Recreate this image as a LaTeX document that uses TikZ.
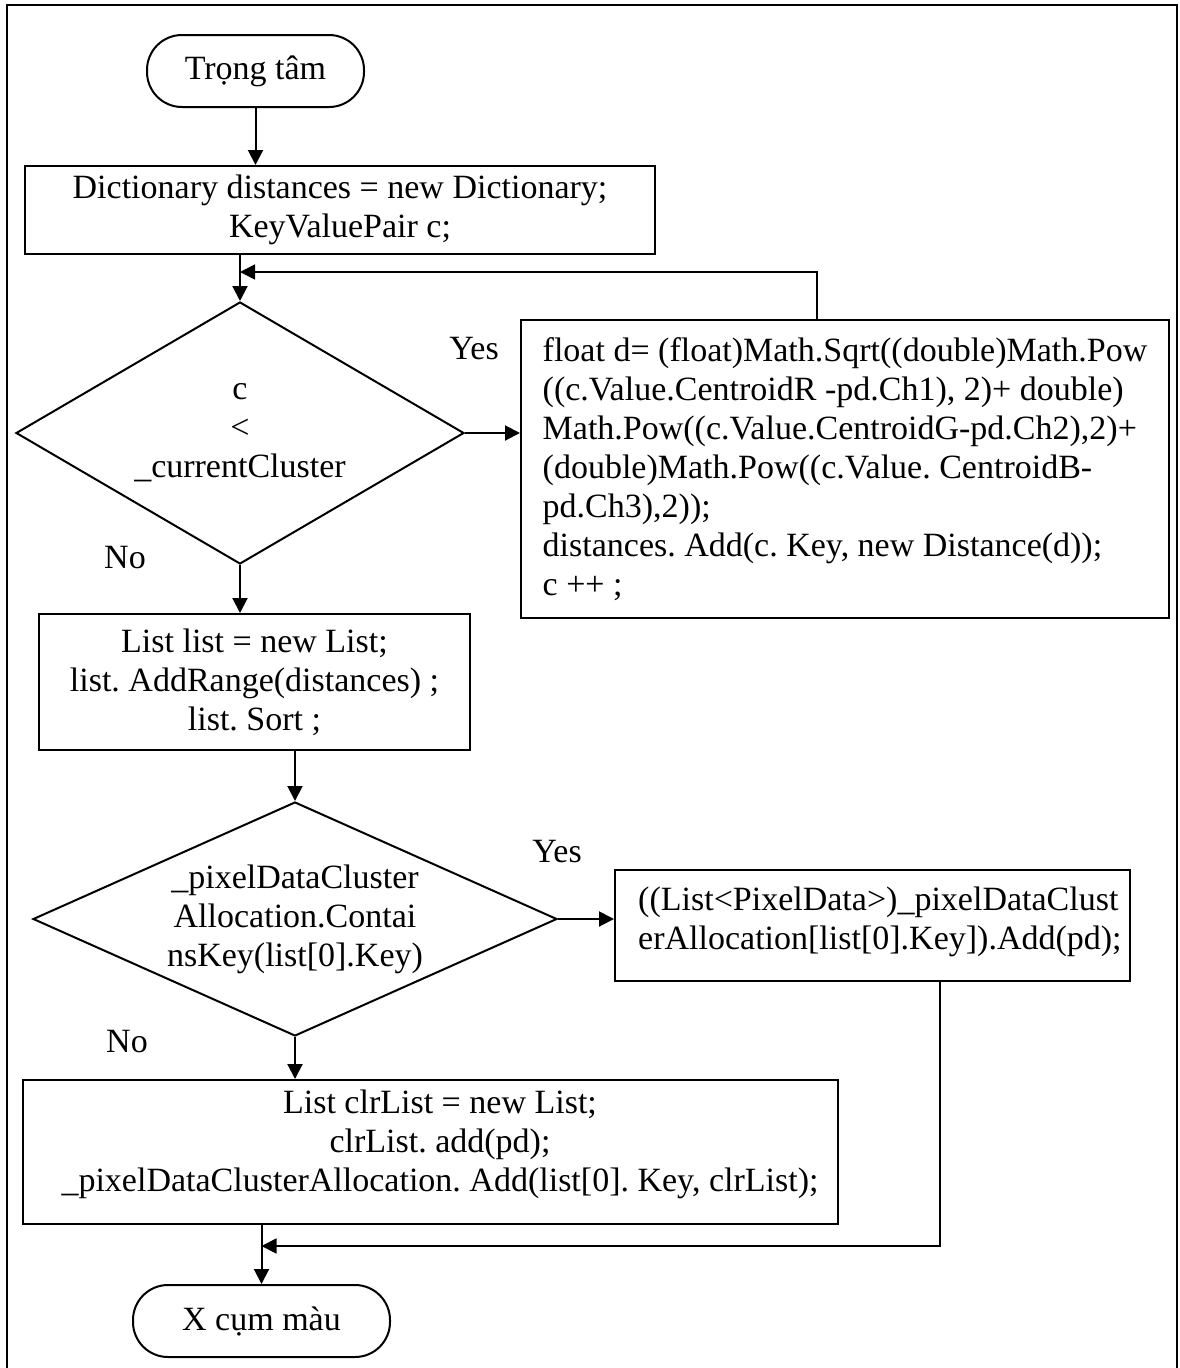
\documentclass[tikz,border=0pt]{standalone}
\usepackage{fontspec}
\setmainfont{Liberation Serif}
\usetikzlibrary{shapes.geometric,arrows.meta}
\newcommand\flowfont{\fontsize{34pt}{39pt}\selectfont\frenchspacing}
\begin{document}
\begin{tikzpicture}[x=1pt,y=-1pt,
  every node/.style={font=\flowfont, inner sep=0pt},
  box/.style={draw, line width=2pt, rectangle},
  term/.style={draw, line width=2pt, rectangle, rounded corners=35pt},
  decision/.style={draw, line width=2pt, diamond, align=center},
  arr/.style={line width=2pt, -{Triangle[length=15pt,width=15pt]}},
  frame/.style={line width=1.5pt}
]
\useasboundingbox (0,0) rectangle (1179,1368);
% page frame
\draw[frame] (7,1368) -- (7,5) -- (1177,5) -- (1177,1368);

% nodes
\node[term, minimum width=217pt, minimum height=72pt] (start) at (255.5,71) {Trọng tâm};
\node[box, minimum width=630pt, minimum height=88pt, align=center] (init) at (340,210)
  {Dictionary distances = new Dictionary;\\KeyValuePair c;};
\node[decision, minimum width=448pt, minimum height=262pt, aspect=1.71] (loop) at (240,433)
  {c\\<\\\_currentCluster};
\node[box, minimum width=648pt, minimum height=298pt, align=left] (calc) at (845,469)
  {float d= (float)Math.Sqrt((double)Math.Pow\\
   ((c.Value.CentroidR -pd.Ch1), 2)+ double)\\
   Math.Pow((c.Value.CentroidG-pd.Ch2),2)+\\
   (double)Math.Pow((c.Value. CentroidB-\\
   pd.Ch3),2));\\
   distances. Add(c. Key, new Distance(d));\\
   c ++ ;};
\node[box, minimum width=431pt, minimum height=136pt, align=center] (list) at (254.5,682)
  {List list = new List;\\list. AddRange(distances) ;\\list. Sort ;};
\node[decision, minimum width=524pt, minimum height=234pt, aspect=2.24] (has) at (295,919)
  {\_pixelDataCluster\\Allocation.Contai\\nsKey(list[0].Key)};
\node[box, minimum width=515pt, minimum height=111pt] (alloc) at (872.5,925.5) {};
\node[anchor=north west, align=left] (alloctext) at (638,887)
  {((List<PixelData>)\_pixelDataClust\\erAllocation[list[0].Key]).Add(pd);};
\node[box, minimum width=815pt, minimum height=144pt] (clr) at (430.5,1152) {};
\node[anchor=north, align=center] (clrtext) at (440,1090)
  {List clrList = new List;\\clrList. add(pd);\\\_pixelDataClusterAllocation. Add(list[0]. Key, clrList);};
\node[term, minimum width=257pt, minimum height=72pt] (finish) at (261.5,1321) {X cụm màu};

% branch labels
\node[anchor=base] (yes1) at (474,359) {Yes};
\node[anchor=base] (no1) at (125,568) {No};
\node[anchor=base] (yes2) at (557,862) {Yes};
\node[anchor=base] (no2) at (127,1052) {No};

% junction points
\coordinate (back1) at (240,272);
\coordinate (back2) at (261.5,1246);

% connectors
\draw[arr] (start.south) -- (start.south |- init.north);
\draw[arr] (loop.north |- init.south) -- (loop.north);
\draw[arr, line width=1.6pt] (calc.north -| 817,0) |- (back1);
\draw[arr] (loop.east) -- (loop.east -| calc.west);
\draw[arr] (loop.south) -- (loop.south |- list.north);
\draw[arr] (has.north |- list.south) -- (has.north);
\draw[arr] (has.east) -- (has.east -| alloc.west);
\draw[arr] (has.south) -- (has.south |- clr.north);
\draw[arr] (finish.north |- clr.south) -- (finish.north);
\draw[arr, line width=1.6pt] (alloc.south -| 940,0) |- (back2);
\end{tikzpicture}
\end{document}
